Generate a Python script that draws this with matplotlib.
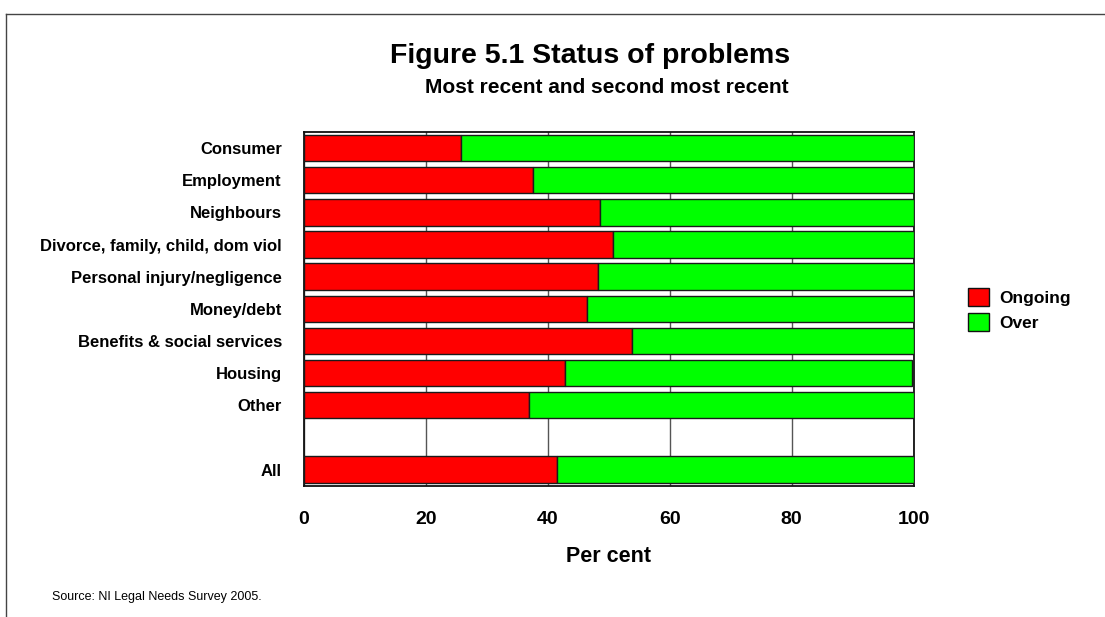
import matplotlib.pyplot as plt
from matplotlib.lines import Line2D
from matplotlib.patches import Patch

plt.rcParams['font.family'] = ['Liberation Sans', 'DejaVu Sans']

# a linha vazia separa "Other" de "All"
categorias = ["Consumer", "Employment", "Neighbours", "Divorce, family, child, dom viol",
              "Personal injury/negligence", "Money/debt", "Benefits & social services",
              "Housing", "Other", "", "All"]
em_curso = [25.8, 37.6, 48.6, 50.7, 48.2, 46.5, 53.8, 42.9, 36.9, None, 41.5]
terminado = [74.2, 62.4, 51.4, 49.3, 51.8, 53.5, 46.2, 56.9, 63.1, None, 58.5]
ticks_x = [0, 20, 40, 60, 80, 100]

fig = plt.figure(figsize=(11.05, 6.17), dpi=100)
ax = fig.add_axes([0.2751, 0.2128, 0.5516, 0.5733])

idx = [i for i, c in enumerate(categorias) if c]
ong = [em_curso[i] for i in idx]
ovr = [terminado[i] for i in idx]
ax.barh(idx, ong, height=0.82, color='#ff0000', edgecolor='#1a1a1a', linewidth=1.0, zorder=3)
ax.barh(idx, ovr, left=ong, height=0.82, color='#00ff00', edgecolor='#1a1a1a', linewidth=1.0, zorder=3)

ax.set_xlim(0, 100)
ax.set_ylim(len(categorias) - 0.5, -0.5)
ax.set_xticks(ticks_x)
ax.set_xticklabels([str(t) for t in ticks_x], fontsize=14, fontweight='bold')
ax.set_yticks(idx)
ax.set_yticklabels([categorias[i] for i in idx], fontsize=12, fontweight='bold')
ax.tick_params(axis='both', length=0)
ax.tick_params(axis='x', pad=18)
ax.tick_params(axis='y', pad=16)
ax.xaxis.grid(True, color='#555555', linewidth=1.0, zorder=0)
ax.set_axisbelow(True)
for lado in ax.spines.values():
    lado.set_linewidth(1.3)
    lado.set_color('#111111')

ax.set_xlabel("Per cent", fontsize=15.5, fontweight='bold', labelpad=13)

fig.text(0.534, 0.898, "Figure 5.1 Status of problems", ha='center', va='baseline',
         fontsize=20.5, fontweight='bold')
fig.text(0.549, 0.849, "Most recent and second most recent", ha='center', va='baseline',
         fontsize=15, fontweight='bold')
fig.text(0.047, 0.032, "Source: NI Legal Needs Survey 2005.", ha='left', va='center', fontsize=9)

# legenda à direita
legenda = [Patch(facecolor='#ff0000', edgecolor='#111111', label='Ongoing'),
           Patch(facecolor='#00ff00', edgecolor='#111111', label='Over')]
fig.legend(handles=legenda, loc='center left', bbox_to_anchor=(0.862, 0.498), frameon=False,
           prop={'weight': 'bold', 'size': 12.5}, handlelength=1.2, handleheight=1.2,
           handletextpad=0.6, labelspacing=0.4)

# moldura da figura: só topo e lado esquerdo
fig.add_artist(Line2D([0.005, 1.0], [0.977, 0.977], color='#444444', linewidth=1.0, transform=fig.transFigure))
fig.add_artist(Line2D([0.005, 0.005], [0.0, 0.977], color='#444444', linewidth=1.0, transform=fig.transFigure))

plt.savefig("out.png", dpi=100)
